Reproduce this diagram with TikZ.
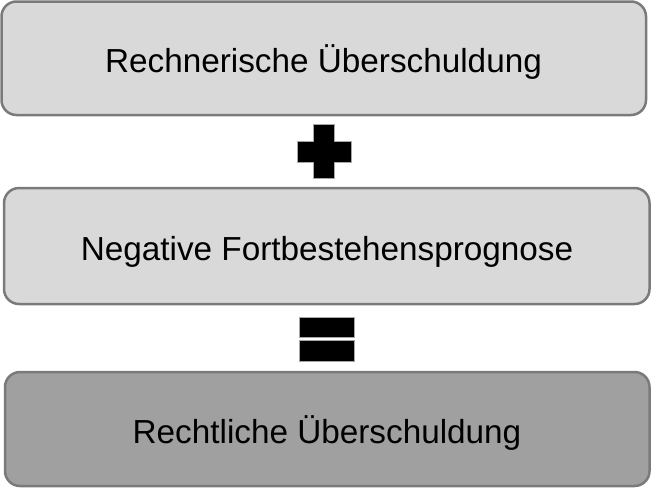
\documentclass[tikz,border=0pt]{standalone}
\usepackage{fontspec}
\setmainfont{Liberation Sans}
\begin{document}
\begin{tikzpicture}[x=1pt,y=-1pt,
  box/.style={draw=boxline,line width=2.5pt,rounded corners=15pt},
  lbl/.style={font=\fontsize{33.3}{38}\selectfont,text=black,inner sep=0pt,anchor=base},
  sym/.style={fill=black,draw=gray!70,line width=0.6pt}]
\definecolor{boxline}{HTML}{7A7A7A}
\definecolor{lightfill}{HTML}{D9D9D9}
\definecolor{darkfill}{HTML}{A0A0A0}
\useasboundingbox (0,0) rectangle (652,488);
\draw[box,fill=lightfill] (1.5,1.5) rectangle (646,115);
\draw[box,fill=lightfill] (4,188) rectangle (649.5,304);
\draw[box,fill=darkfill] (5,372) rectangle (649.5,486);
\node[lbl] (t1) at (323.5,72) {Rechnerische Überschuldung};
\node[lbl] (t2) at (327,260) {Negative Fortbestehensprognose};
\node[lbl] (t3) at (327,443) {Rechtliche Überschuldung};
% plus
\draw[sym] (313,124) -- (334,124) -- (334,141) -- (351,141) -- (351,162) -- (334,162) -- (334,178) -- (313,178) -- (313,162) -- (297,162) -- (297,141) -- (313,141) -- cycle;
% equals
\draw[sym] (299,317) rectangle (354,337);
\draw[sym] (299,340) rectangle (354,361);
\end{tikzpicture}
\end{document}
